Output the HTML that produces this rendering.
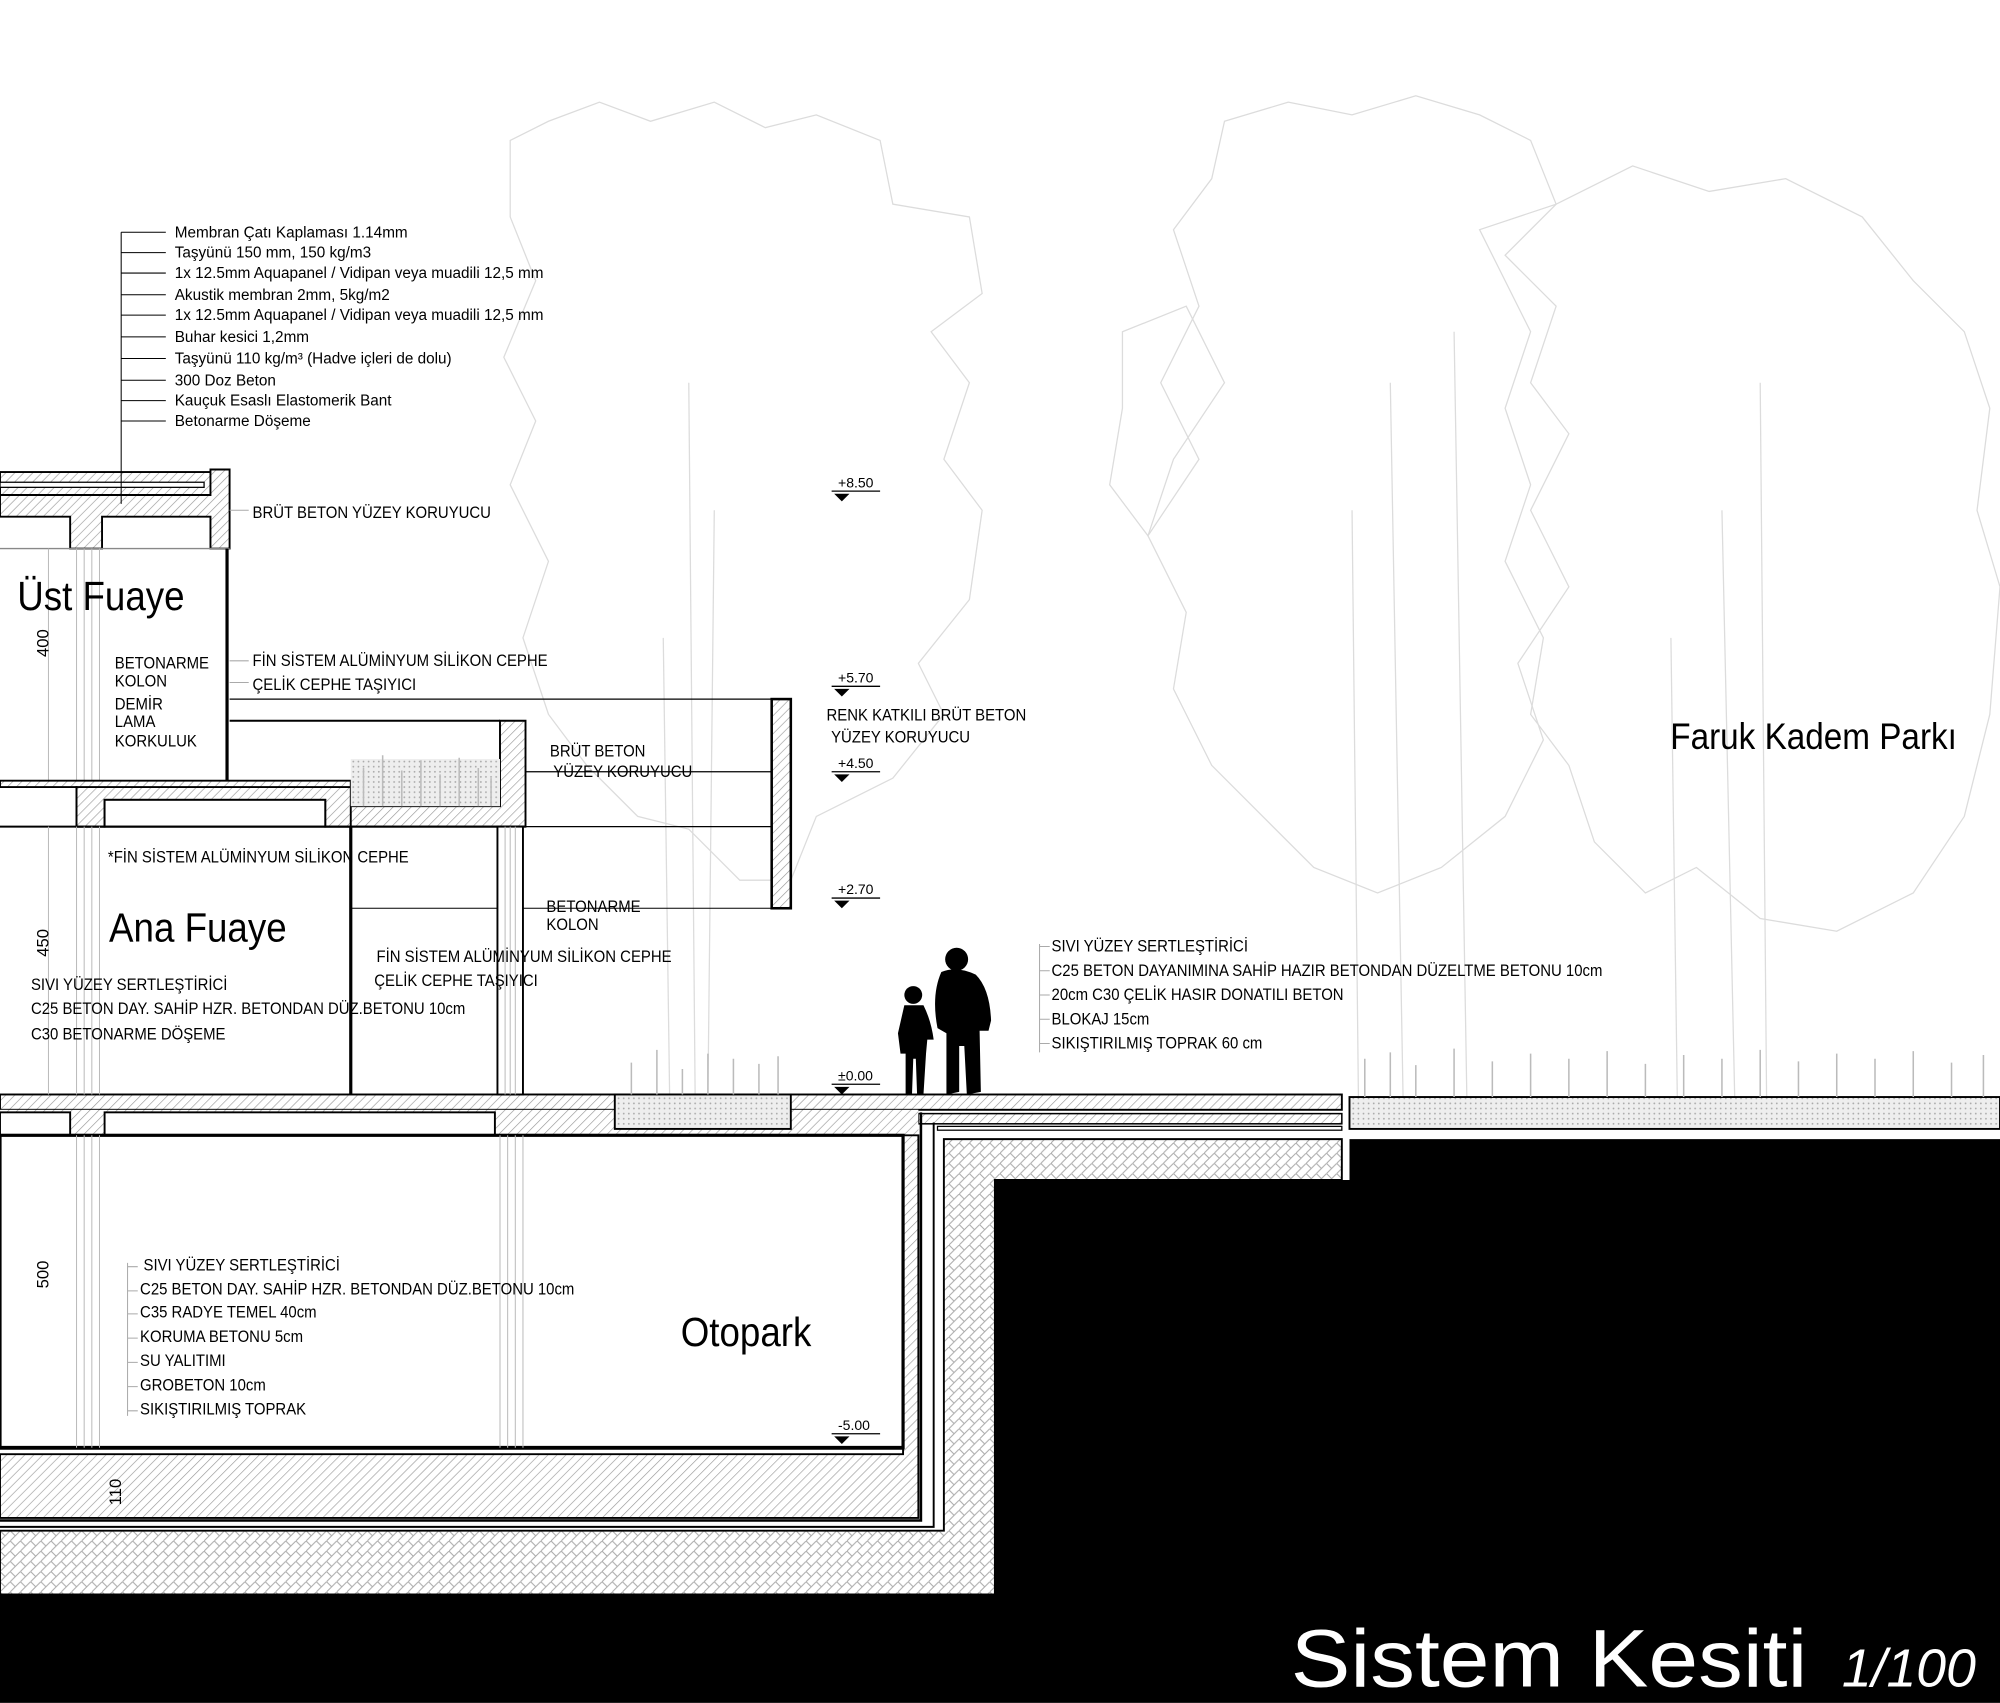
<!DOCTYPE html>
<html><head><meta charset="utf-8"><style>
html,body{margin:0;padding:0;background:#fff;}
svg{display:block;}
text{font-family:"Liberation Sans",sans-serif;}
</style></head><body>
<svg width="2000" height="1703" viewBox="0 0 1568 1335" xmlns="http://www.w3.org/2000/svg">
<defs>
<pattern id="h" width="5" height="5" patternUnits="userSpaceOnUse" patternTransform="rotate(45)"><rect width="5" height="5" fill="#fff"/><line x1="0" y1="0" x2="0" y2="5" stroke="#999" stroke-width="1"/></pattern>
<pattern id="x" width="8" height="8" patternUnits="userSpaceOnUse"><rect width="8" height="8" fill="#fff"/><path d="M0 8L8 0M0 0L4 4" stroke="#aaa" stroke-width="0.8"/></pattern>
<pattern id="g" width="4" height="4" patternUnits="userSpaceOnUse"><rect width="4" height="4" fill="#eee"/><circle cx="1" cy="1" r="0.7" fill="#aaa"/></pattern>
</defs>
<rect width="1568" height="1335" fill="#fff"/>

<!-- trees (faint) -->
<g fill="none" stroke="#dcdcdc" stroke-width="1">
<path d="M400 110 L430 95 L470 80 L510 95 L560 80 L600 100 L640 90 L690 110 L700 160 L760 170 L770 230 L730 260 L760 300 L740 360 L770 400 L760 470 L720 520 L740 560 L700 610 L640 640 L620 690 L580 690 L540 650 L500 640 L460 600 L430 560 L410 500 L430 440 L400 380 L420 330 L395 280 L420 220 L400 170 Z"/>
<path d="M540 300 L545 860 M520 500 L525 860 M560 400 L555 860"/>
<path d="M960 95 L1010 80 L1060 90 L1110 75 L1160 90 L1200 110 L1220 160 L1180 200 L1220 240 L1200 300 L1230 340 L1200 400 L1230 460 L1190 520 L1210 580 L1180 640 L1130 680 L1080 700 L1030 680 L990 640 L950 600 L920 540 L930 480 L900 420 L940 360 L910 300 L940 240 L920 180 L950 140 Z"/>
<path d="M1090 300 L1100 860 M1140 260 L1150 860 M1060 400 L1065 860"/>
<path d="M1160 180 L1220 160 L1280 130 L1340 150 L1400 140 L1460 170 L1500 220 L1540 260 L1560 320 L1550 400 L1568 460 L1560 560 L1540 640 L1500 700 L1440 730 L1380 720 L1330 680 L1290 700 L1250 660 L1230 600 L1200 560 L1210 500 L1180 440 L1200 380 L1180 320 L1200 260 Z"/>
<path d="M1350 400 L1360 860 M1380 300 L1385 860 M1310 500 L1315 860"/>
<path d="M880 260 L930 240 L960 300 L920 360 L900 420 L870 380 L880 320 Z"/>
</g>

<!-- black ground -->
<path d="M1058 893 L1568 893 L1568 1335 L0 1335 L0 1250 L780 1250 L780 925 L1058 925 Z" fill="#000"/>

<!-- park grass strip -->
<rect x="1058" y="860" width="510" height="25" fill="url(#g)" stroke="#000" stroke-width="1.5"/>
<g stroke="#bbb" stroke-width="1.2">
<path d="M1070 860v-30M1090 860v-35M1110 860v-25M1140 860v-38M1170 860v-28M1200 860v-34M1230 860v-30M1260 860v-36M1290 860v-26M1320 860v-33M1350 860v-30M1380 860v-37M1410 860v-28M1440 860v-34M1470 860v-30M1500 860v-36M1530 860v-27M1555 860v-33"/>
</g>

<!-- ground slab and layers -->
<rect x="0" y="858" width="1052" height="12" fill="url(#h)" stroke="#000" stroke-width="1.5"/>
<rect x="720" y="873" width="332" height="8" fill="url(#h)" stroke="#000" stroke-width="1.2"/>
<rect x="735" y="883" width="317" height="3" fill="#fff" stroke="#000" stroke-width="1"/>
<rect x="0" y="870" width="720" height="20" fill="url(#h)"/>
<path d="M740 893 L1052 893 L1052 925 L780 925 L780 1250 L0 1250 L0 1200 L740 1200 Z" fill="url(#x)" stroke="#000" stroke-width="1.5"/>
<path d="M722 872 L722 1192 L0 1192" fill="none" stroke="#000" stroke-width="2"/>
<path d="M732 880 L732 1197 L0 1197" fill="none" stroke="#000" stroke-width="1.5"/>
<path d="M708 890 L720 890 L720 1190 L0 1190 L0 1140 L708 1140 Z" fill="url(#h)" stroke="#000" stroke-width="1.5"/>
<rect x="0" y="872" width="55" height="18" fill="#fff" stroke="#000" stroke-width="1.5"/>
<rect x="82" y="872" width="306" height="18" fill="#fff" stroke="#000" stroke-width="1.5"/>
<rect x="482" y="858" width="138" height="27" fill="url(#g)" stroke="#000" stroke-width="1.5"/>
<g stroke="#bbb" stroke-width="1.2"><path d="M495 858v-25M515 858v-35M535 858v-20M555 858v-32M575 858v-28M595 858v-24M610 858v-30"/></g>

<!-- otopark room -->
<rect x="0" y="890" width="708" height="245" fill="#fff" stroke="#000" stroke-width="2.5"/>
<line x1="0" y1="1135" x2="708" y2="1135" stroke="#000" stroke-width="3"/>
<g stroke="#bbb" stroke-width="0.8"><path d="M60 890v245M66 890v245M72 890v245M78 890v245M392 890v245M398 890v245M404 890v245M410 890v245"/></g>

<!-- upper building -->
<rect x="0" y="370" width="165" height="18" fill="url(#h)" stroke="#000" stroke-width="1.5"/>
<rect x="0" y="378" width="160" height="4" fill="#fff" stroke="#000" stroke-width="1"/>
<path d="M165 368 L180 368 L180 430 L165 430 L165 405 L80 405 L80 430 L55 430 L55 405 L0 405 L0 388 L165 388 Z" fill="url(#h)" stroke="#000" stroke-width="1.5"/>
<line x1="0" y1="430" x2="180" y2="430" stroke="#888" stroke-width="1"/>
<line x1="178" y1="430" x2="178" y2="612" stroke="#000" stroke-width="2.5"/>
<g stroke="#bbb" stroke-width="0.8"><path d="M60 430v182M66 430v182M72 430v182M78 430v182M38 430v182"/></g>
<line x1="180" y1="548" x2="620" y2="548" stroke="#000" stroke-width="1"/>
<line x1="180" y1="565" x2="392" y2="565" stroke="#000" stroke-width="1.5"/>
<path d="M0 612 L275 612 L275 632 L392 632 L392 565 L412 565 L412 648 L275 648 L275 648 L60 648 L60 617 L0 617 Z" fill="url(#h)" stroke="#000" stroke-width="1.5"/>
<path d="M60 617 L275 617 L275 648 L255 648 L255 627 L82 627 L82 648 L60 648 Z" fill="url(#h)" stroke="#000" stroke-width="1.5"/>
<rect x="82" y="627" width="173" height="21" fill="#fff" stroke="#000" stroke-width="1.5"/>
<line x1="0" y1="648" x2="412" y2="648" stroke="#000" stroke-width="1.5"/>
<rect x="275" y="595" width="117" height="37" fill="url(#g)"/>
<g stroke="#bbb" stroke-width="1.2"><path d="M285 632v-30M300 632v-40M315 632v-28M330 632v-36M345 632v-25M360 632v-38M375 632v-30M385 632v-22"/></g>
<line x1="412" y1="605" x2="605" y2="605" stroke="#000" stroke-width="1"/>
<line x1="412" y1="648" x2="605" y2="648" stroke="#000" stroke-width="1"/>
<rect x="605" y="548" width="15" height="164" fill="url(#h)" stroke="#000" stroke-width="2"/>
<line x1="275" y1="712" x2="605" y2="712" stroke="#000" stroke-width="0.8"/>
<line x1="275" y1="648" x2="275" y2="858" stroke="#000" stroke-width="2.5"/>
<g stroke="#bbb" stroke-width="0.8"><path d="M60 648v210M66 648v210M72 648v210M78 648v210M38 648v210"/></g>
<rect x="390" y="648" width="20" height="210" fill="#fff" stroke="#000" stroke-width="1.5"/>
<g stroke="#bbb" stroke-width="0.8"><path d="M396 648v210M400 648v210M404 648v210"/></g>

<g stroke="#000" stroke-width="0.8" fill="none">
<path d="M95 182V395"/>
<path d="M95 182h35M95 198h35M95 214h35M95 231h35M95 247h35M95 264h35M95 281h35M95 298h35M95 314h35M95 330h35"/>
</g>
<g font-size="12" fill="#000">
<text x="137" y="186">Membran Çatı Kaplaması 1.14mm</text>
<text x="137" y="202">Taşyünü 150 mm, 150 kg/m3</text>
<text x="137" y="218">1x 12.5mm Aquapanel / Vidipan veya muadili 12,5 mm</text>
<text x="137" y="235">Akustik membran 2mm, 5kg/m2</text>
<text x="137" y="251">1x 12.5mm Aquapanel / Vidipan veya muadili 12,5 mm</text>
<text x="137" y="268">Buhar kesici 1,2mm</text>
<text x="137" y="285">Taşyünü 110 kg/m³ (Hadve içleri de dolu)</text>
<text x="137" y="302">300 Doz Beton</text>
<text x="137" y="318">Kauçuk Esaslı Elastomerik Bant</text>
<text x="137" y="334">Betonarme Döşeme</text>
</g>

<g font-size="13" fill="#000" transform="scale(0.9,1)">
<text x="220" y="406">BRÜT BETON YÜZEY KORUYUCU</text>
<text x="100" y="524">BETONARME</text>
<text x="100" y="538">KOLON</text>
<text x="100" y="556">DEMİR</text>
<text x="100" y="570">LAMA</text>
<text x="100" y="585">KORKULUK</text>
<text x="220" y="522">FİN SİSTEM ALÜMİNYUM SİLİKON CEPHE</text>
<text x="220" y="541">ÇELİK CEPHE TAŞIYICI</text>
<text x="479" y="593">BRÜT BETON</text>
<text x="482" y="609">YÜZEY KORUYUCU</text>
<text x="720" y="565">RENK KATKILI BRÜT BETON</text>
<text x="724" y="582">YÜZEY KORUYUCU</text>
<text x="94" y="676">*FİN SİSTEM ALÜMİNYUM SİLİKON CEPHE</text>
<text x="476" y="715">BETONARME</text>
<text x="476" y="729">KOLON</text>
<text x="328" y="754">FİN SİSTEM ALÜMİNYUM SİLİKON CEPHE</text>
<text x="326" y="773">ÇELİK CEPHE TAŞIYICI</text>
<text x="27" y="776">SIVI YÜZEY SERTLEŞTİRİCİ</text>
<text x="27" y="795">C25 BETON DAY. SAHİP HZR. BETONDAN DÜZ.BETONU 10cm</text>
<text x="27" y="815">C30 BETONARME DÖŞEME</text>
<text x="916" y="746">SIVI YÜZEY SERTLEŞTİRİCİ</text>
<text x="916" y="765">C25 BETON DAYANIMINA SAHİP HAZIR BETONDAN DÜZELTME BETONU 10cm</text>
<text x="916" y="784">20cm C30 ÇELİK HASIR DONATILI BETON</text>
<text x="916" y="803">BLOKAJ 15cm</text>
<text x="916" y="822">SIKIŞTIRILMIŞ TOPRAK 60 cm</text>
<text x="125" y="996">SIVI YÜZEY SERTLEŞTİRİCİ</text>
<text x="122" y="1015">C25 BETON DAY. SAHİP HZR. BETONDAN DÜZ.BETONU 10cm</text>
<text x="122" y="1033">C35 RADYE TEMEL 40cm</text>
<text x="122" y="1052">KORUMA BETONU 5cm</text>
<text x="122" y="1071">SU YALITIMI</text>
<text x="122" y="1090">GROBETON 10cm</text>
<text x="122" y="1109">SIKIŞTIRILMIŞ TOPRAK</text>
</g>
<g stroke="#aaa" stroke-width="0.8" fill="none">
<path d="M180 400h15M180 518h15M180 535h15M815 740v85M815 742h8M815 761h8M815 780h8M815 799h8M815 818h8M100 990v120M100 993h8M100 1012h8M100 1030h8M100 1049h8M100 1068h8M100 1087h8M100 1106h8"/>
</g>

<g fill="#000">
<text x="15" y="478" font-size="32" transform="scale(0.9,1)">Üst Fuaye</text>
<text x="95" y="738" font-size="32" transform="scale(0.9,1)">Ana Fuaye</text>
<text x="593" y="1055" font-size="32" transform="scale(0.9,1)">Otopark</text>
<text x="1455" y="587" font-size="29" transform="scale(0.9,1)">Faruk Kadem Parkı</text>
</g>
<g font-size="13" fill="#000">
<text transform="translate(38,515) rotate(-90)">400</text>
<text transform="translate(38,750) rotate(-90)">450</text>
<text transform="translate(38,1010) rotate(-90)">500</text>
<text transform="translate(95,1180) rotate(-90)">110</text>
</g>

<g font-size="11" fill="#000" stroke-width="1">
<g transform="translate(652,385)"><path d="M0 0h38" stroke="#000"/><path d="M2 2h12l-6 6z"/><text x="5" y="-3">+8.50</text></g>
<g transform="translate(652,538)"><path d="M0 0h38" stroke="#000"/><path d="M2 2h12l-6 6z"/><text x="5" y="-3">+5.70</text></g>
<g transform="translate(652,605)"><path d="M0 0h38" stroke="#000"/><path d="M2 2h12l-6 6z"/><text x="5" y="-3">+4.50</text></g>
<g transform="translate(652,704)"><path d="M0 0h38" stroke="#000"/><path d="M2 2h12l-6 6z"/><text x="5" y="-3">+2.70</text></g>
<g transform="translate(652,850)"><path d="M0 0h38" stroke="#000"/><path d="M2 2h12l-6 6z"/><text x="5" y="-3">±0.00</text></g>
<g transform="translate(652,1124)"><path d="M0 0h38" stroke="#000"/><path d="M2 2h12l-6 6z"/><text x="5" y="-3">-5.00</text></g>
</g>

<g fill="#000">
<circle cx="750" cy="752" r="9"/>
<path d="M738 762 Q750 757 765 764 Q776 775 777 800 L775 808 L768 808 L769 856 L758 858 L756 820 L752 820 L752 856 L742 858 L742 810 L735 806 Q730 780 738 762 Z"/>
<circle cx="716" cy="780" r="7"/>
<path d="M709 788 L724 788 Q730 800 732 815 L727 815 L726 826 L724 858 L719 858 L718 830 L716 830 L715 858 L710 858 L710 826 L706 826 L704 810 Z"/>
</g>

<text x="1012" y="1322" font-size="64" fill="#fff" textLength="405" lengthAdjust="spacingAndGlyphs">Sistem Kesiti</text>
<text x="1444" y="1322" font-size="42" fill="#fff" font-style="italic">1/100</text>
</svg>
</body></html>
